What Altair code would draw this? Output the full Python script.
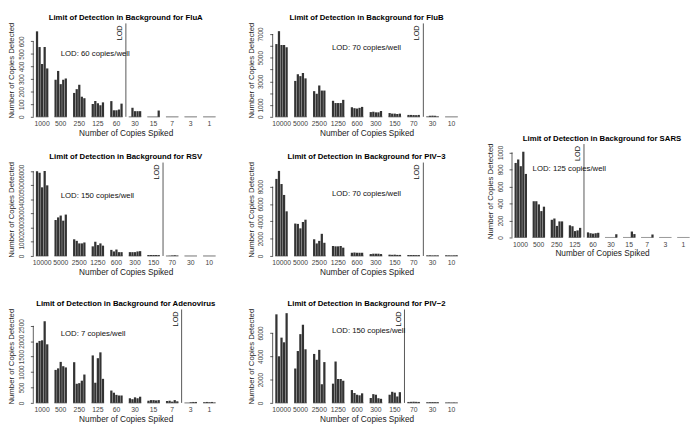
import altair as alt
import pandas as pd

# ---------------- data ----------------
SPIKES_SMALL = ["1000", "500", "250", "125", "60", "30", "15", "7", "3", "1"]
SPIKES_LARGE = ["10000", "5000", "2500", "1250", "600", "300", "150", "70", "30", "10"]
REPLICATES = [1, 2, 3, 4, 5]

flua_values = [
    [680, 555, 420, 555, 385], [295, 365, 260, 295, 305], [190, 220, 255, 160, 148],
    [102, 125, 108, 92, 115], [125, 52, 52, 58, 105], [0, 72, 45, 45, 45],
    [0, 0, 0, 0, 50], [0, 0, 0, 0, 0], [0, 0, 0, 0, 0], [0, 0, 0, 0, 0],
]
flub_values = [
    [6150, 7240, 6070, 6070, 5880], [3035, 3600, 3440, 3710, 3250], [2170, 1950, 2650, 2220, 2220],
    [1355, 1165, 1165, 1165, 1435], [810, 730, 700, 760, 840], [400, 430, 380, 380, 490],
    [320, 270, 270, 240, 270], [160, 160, 150, 140, 160], [20, 90, 100, 90, 30], [0, 0, 0, 0, 0],
]
rsv_values = [
    [6000, 5890, 4860, 6020, 5000], [2545, 2730, 2860, 2500, 2930], [1180, 1070, 890, 890, 955],
    [680, 1000, 770, 890, 730], [430, 320, 455, 270, 270], [270, 270, 270, 320, 340],
    [70, 70, 70, 70, 60], [0, 10, 30, 50, 20], [0, 0, 0, 0, 0], [0, 0, 0, 0, 0],
]
piv3_values = [
    [8890, 9815, 8300, 7040, 5150], [3740, 3700, 3185, 3925, 4185], [1925, 1445, 1740, 2555, 1520],
    [1150, 1110, 1110, 1150, 960], [370, 400, 370, 370, 370], [220, 260, 260, 260, 220],
    [150, 130, 150, 120, 120], [110, 100, 110, 90, 100], [60, 70, 50, 60, 60], [70, 60, 50, 60, 80],
]
sars_values = [
    [876, 917, 838, 1008, 747], [426, 426, 389, 310, 362], [208, 223, 136, 189, 189],
    [143, 132, 75, 83, 113], [60, 50, 45, 50, 55], [0, 0, 0, 0, 38],
    [0, 0, 0, 70, 40], [0, 0, 0, 0, 35], [0, 0, 0, 0, 0], [0, 0, 0, 0, 0],
]
adeno_values = [
    [1950, 2010, 2030, 2650, 1900], [1070, 1120, 1330, 1190, 1150], [1320, 620, 640, 720, 920],
    [1540, 650, 1450, 1640, 780], [400, 330, 260, 240, 240], [150, 120, 180, 150, 200],
    [70, 90, 90, 80, 90], [60, 70, 40, 90, 50], [0, 0, 20, 30, 30], [20, 30, 20, 30, 10],
]
piv2_values = [
    [7600, 4000, 5600, 5200, 7700], [2950, 4450, 5900, 6700, 4600], [4200, 3700, 4550, 1600, 3500],
    [1650, 3550, 2050, 2050, 1900], [1100, 850, 700, 650, 820], [420, 750, 700, 400, 350],
    [700, 950, 880, 550, 920], [80, 90, 100, 90, 80], [50, 60, 70, 60, 60], [20, 30, 20, 30, 20],
]

# y tick values and the labels that are printed
flua_ticks = [0, 100, 200, 300, 400, 500, 600]
flub_ticks = [0, 1000, 2000, 3000, 4000, 5000, 6000, 7000]
flub_shown = [0, 1000, 3000, 5000, 7000]
rsv_ticks = [0, 1000, 2000, 3000, 4000, 5000, 6000]
piv3_ticks = [0, 2000, 4000, 6000, 8000]
sars_ticks = [0, 200, 400, 600, 800, 1000]
adeno_ticks = [0, 500, 1000, 1500, 2000, 2500]
piv2_ticks = [0, 2000, 4000, 6000]

# ---------------- style ----------------
FONT = "Liberation Sans"
H = 96
BAR = "#333333"
GAP_SHIFT = -3  # LOD line sits in the gap before the first group below the LOD


def panel(title, spikes, values, ymax, ticks, lod_cat, note, note_cat, note_band,
          note_y, width, shown=None):
    rows = []
    for s, grp in zip(spikes, values):
        for r, v in zip(REPLICATES, grp):
            rows.append({"spike": s, "rep": r, "val": v})
    df = pd.DataFrame(rows)
    base_df = pd.DataFrame({"spike": spikes, "zero": [0] * len(spikes)})
    axis_df = pd.DataFrame({"zero": [0], "top": [ticks[-1]]})
    lod_df = pd.DataFrame({"spike": [lod_cat]})
    note_df = pd.DataFrame({"spike": [note_cat]})

    xscale = alt.Scale(domain=spikes, paddingInner=0.33, paddingOuter=0.14)
    xaxis = alt.Axis(title="Number of Copies Spiked")

    def X(band=None):
        if band is None:
            return alt.X("spike:N", scale=xscale, axis=xaxis)
        return alt.X("spike:N", scale=xscale, axis=xaxis, bandPosition=band)

    yscale = alt.Scale(domain=[0, ymax], nice=False)
    if shown is not None:
        expr = "indexof([" + ",".join(str(v) for v in shown) + "], datum.value) >= 0 ? datum.label : ''"
        yaxis = alt.Axis(values=ticks, title="Number of Copies Detected", format="d", labelExpr=expr)
    else:
        yaxis = alt.Axis(values=ticks, title="Number of Copies Detected", format="d")

    def Y(field):
        return alt.Y(field, scale=yscale, axis=yaxis)

    baseline = alt.Chart(base_df).mark_bar(fillOpacity=0, stroke="#9a9a9a", strokeWidth=0.9).encode(
        x=X(), y=Y("zero:Q"), y2=alt.Y2("zero")
    )
    bars = alt.Chart(df).mark_bar(color=BAR).encode(
        x=X(),
        xOffset=alt.XOffset("rep:O", scale=alt.Scale(paddingInner=0.12)),
        y=Y("val:Q"),
    )
    yline = alt.Chart(axis_df).mark_rule(color="#333333", strokeWidth=0.8).encode(
        x=alt.value(0), y=Y("zero:Q"), y2=alt.Y2("top")
    )
    lod_rule = alt.Chart(lod_df).mark_rule(color="#555555", strokeWidth=1, xOffset=GAP_SHIFT).encode(
        x=X(0)
    )
    lod_text = alt.Chart(lod_df).mark_text(
        text="LOD", angle=270, align="right", baseline="alphabetic", xOffset=GAP_SHIFT - 4,
        fontSize=7.5, font=FONT, color="#111111"
    ).encode(x=X(0), y=alt.value(2))
    note_text = alt.Chart(note_df).mark_text(
        text=note, align="left", baseline="middle", fontSize=8, font=FONT, color="#111111"
    ).encode(x=X(note_band), y=alt.value(note_y))

    return alt.layer(baseline, bars, yline, lod_rule, lod_text, note_text).properties(
        width=width,
        height=H,
        title=alt.Title(title, fontSize=8, fontWeight="bold", font=FONT, frame="group",
                        offset=0, color="#000000", anchor="middle"),
    )


flua = panel("Limit of Detection in Background for FluA", SPIKES_SMALL, flua_values, 743,
             flua_ticks, "30", "LOD: 60 copies/well", "500", 0.5, 31, 190)
flub = panel("Limit of Detection in Background for FluB", SPIKES_LARGE, flub_values, 7895,
             flub_ticks, "30", "LOD: 70 copies/well", "1250", 0, 25, 193, shown=flub_shown)
rsv = panel("Limit of Detection in Background for RSV", SPIKES_LARGE, rsv_values, 6614,
            rsv_ticks, "70", "LOD: 150 copies/well", "5000", 0.5, 34, 190)
piv3 = panel("Limit of Detection in Background for PIV\u22123", SPIKES_LARGE, piv3_values, 10778,
             piv3_ticks, "30", "LOD: 70 copies/well", "1250", 0, 32, 193)
sars = panel("Limit of Detection in Background for SARS", SPIKES_SMALL, sars_values, 1098,
             sars_ticks, "60", "LOD: 125 copies/well", "500", 0, 26, 185)
adeno = panel("Limit of Detection in Background for Adenovirus", SPIKES_SMALL, adeno_values, 3031,
              adeno_ticks, "3", "LOD: 7 copies/well", "500", 0.5, 25, 190)
piv2 = panel("Limit of Detection in Background for PIV\u22122", SPIKES_LARGE, piv2_values, 8017,
             piv2_ticks, "70", "LOD: 150 copies/well", "1250", 0, 22, 193)

spacer = alt.Chart(pd.DataFrame({"s": [0, 1]})).mark_point(opacity=0, size=1).encode(
    x=alt.X("s:Q", axis=None), y=alt.Y("s:Q", axis=None)
).properties(width=10, height=103)

lower = alt.vconcat(
    alt.hconcat(rsv, piv3, spacing=30),
    alt.hconcat(adeno, piv2, spacing=30),
    spacing=24,
)
left = alt.vconcat(alt.hconcat(flua, flub, spacing=30), lower, spacing=16)
right = alt.vconcat(spacer, sars, spacing=10)

chart = alt.hconcat(left, right, spacing=27).properties(padding=0).configure(
    font=FONT
).configure_view(stroke=None).configure_axisX(
    labelAngle=0, ticks=False, domain=False, labelPadding=3, labelFontSize=7,
    labelColor="#444444", titleFontSize=8.5, titleFontWeight="normal", titlePadding=2,
    titleColor="#222222", grid=False, labelOverlap=False, labelFont=FONT, titleFont=FONT,
).configure_axisY(
    labelAngle=270, labelAlign="center", labelBaseline="bottom", labelFontSize=6.6,
    labelColor="#444444", tickSize=3, tickColor="#333333", tickWidth=0.8, labelPadding=6,
    domain=False, grid=False, titleFontSize=8, titleFontWeight="normal", titlePadding=2,
    titleColor="#222222", minExtent=16, maxExtent=16, labelOverlap=False,
    labelFont=FONT, titleFont=FONT,
)

chart.save("out.html", embed_options={"renderer": "svg", "actions": False})
